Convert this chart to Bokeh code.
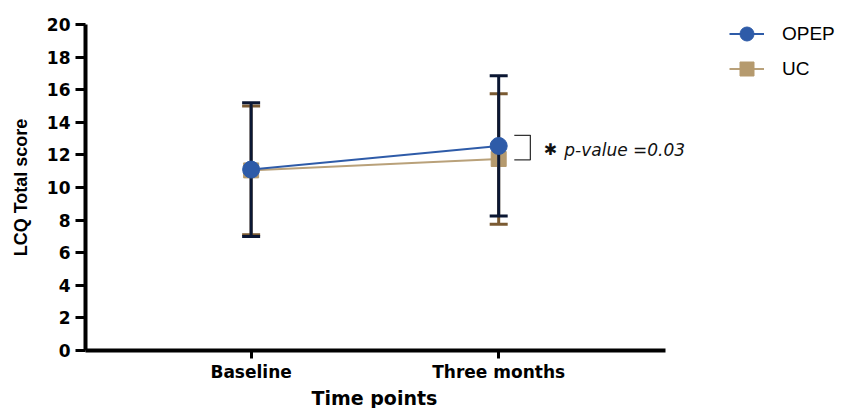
from bokeh.plotting import figure
from bokeh.models import Range1d, FixedTicker, Legend, LegendItem, Label
from bokeh.embed import file_html
from bokeh.resources import INLINE

# LCQ total score (mean ± SD) at each time point
time_points = ["Baseline", "Three months"]
x_pos = [1, 2]
opep_mean = [11.1, 12.55]
opep_sd = [4.1, 4.3]
uc_mean = [11.05, 11.75]
uc_sd = [3.95, 4.0]
y_ticks = list(range(0, 21, 2))
p_value_text = "p-value =0.03"
x_title = "Time points"

OPEP_COLOR = "#2e5ba8"
OPEP_BAR = "#0b1733"
UC_COLOR = "#b59a6e"
UC_LINE = "#b9a17a"
UC_BAR = "#7a5a32"

# the x axis is drawn only over its own bounds; the rest of the frame
# holds the annotation and the legend
X_AXIS_BOUNDS = (0.331, 2.673)

p = figure(
    width=848, height=408,
    x_range=Range1d(0.331, 3.413), y_range=Range1d(0, 20),
    output_backend="svg", toolbar_location=None,
    title=x_title, title_location="below",
    min_border_left=85, min_border_right=0,
    min_border_top=24, min_border_bottom=58,
)
p.outline_line_color = None
p.xgrid.visible = False
p.ygrid.visible = False
p.background_fill_color = "white"
p.border_fill_color = "white"

# x-axis title, centred under the bounded axis
p.title.align = "left"
p.title.offset = 226
p.title.standoff = 0
p.title.text_font = "DejaVu Sans"
p.title.text_font_style = "bold"
p.title.text_font_size = "19px"
p.title.text_color = "black"

# axes
p.yaxis.ticker = FixedTicker(ticks=y_ticks)
p.yaxis.minor_tick_line_color = None
p.yaxis.axis_line_width = 4
p.yaxis.major_tick_line_width = 3
p.yaxis.major_tick_out = 10
p.yaxis.major_tick_in = 0
p.yaxis.major_label_standoff = 5
p.yaxis.major_label_text_font = "DejaVu Sans"
p.yaxis.major_label_text_font_style = "bold"
p.yaxis.major_label_text_font_size = "17px"
p.yaxis.major_label_text_color = "black"
p.yaxis.axis_label = "LCQ Total score"
p.yaxis.axis_label_text_font = "Liberation Sans"
p.yaxis.axis_label_text_font_style = "bold"
p.yaxis.axis_label_text_font_size = "18px"
p.yaxis.axis_label_text_color = "black"
p.yaxis.axis_label_standoff = 13

p.xaxis.bounds = X_AXIS_BOUNDS
p.xaxis.ticker = FixedTicker(ticks=x_pos)
p.xaxis.major_label_overrides = {x: t for x, t in zip(x_pos, time_points)}
p.xaxis.minor_tick_line_color = None
p.xaxis.axis_line_width = 4
p.xaxis.major_tick_line_width = 3
p.xaxis.major_tick_out = 8
p.xaxis.major_tick_in = 0
p.xaxis.major_label_standoff = 3
p.xaxis.major_label_text_font = "DejaVu Sans"
p.xaxis.major_label_text_font_style = "bold"
p.xaxis.major_label_text_font_size = "17px"
p.xaxis.major_label_text_color = "black"

# mean lines
uc_line = p.line(x_pos, uc_mean, line_color=UC_LINE, line_width=2)
opep_line = p.line(x_pos, opep_mean, line_color=OPEP_COLOR, line_width=2)


def error_bars(means, sds, color):
    lo = [m - s for m, s in zip(means, sds)]
    hi = [m + s for m, s in zip(means, sds)]
    p.segment(x0=x_pos, y0=lo, x1=x_pos, y1=hi, line_color=color, line_width=3)
    p.scatter(x=x_pos * 2, y=lo + hi, marker="dash", size=18,
              line_color=color, line_width=3)


error_bars(uc_mean, uc_sd, UC_BAR)
uc_pts = p.scatter(x_pos, uc_mean, marker="square", size=15,
                   fill_color=UC_COLOR, line_color=UC_COLOR)
error_bars(opep_mean, opep_sd, OPEP_BAR)
opep_pts = p.scatter(x_pos, opep_mean, marker="circle", size=17,
                     fill_color=OPEP_COLOR, line_color=OPEP_COLOR)

# significance bracket at three months
br_top = opep_mean[1] + 0.65
br_bot = uc_mean[1] - 0.05
br_x0, br_x1 = 2.063, 2.128
p.line([br_x0, br_x1, br_x1, br_x0], [br_top, br_top, br_bot, br_bot],
       line_color="#333333", line_width=1.3)
br_mid = (br_top + br_bot) / 2
p.add_layout(Label(x=2.209, y=br_mid, text="\u2731", text_align="center",
                   text_baseline="middle", text_font="DejaVu Sans",
                   text_font_size="16px", text_color="#111111", y_offset=-2))
p.add_layout(Label(x=2.265, y=br_mid, text=p_value_text, text_align="left",
                   text_baseline="middle", text_font="DejaVu Sans",
                   text_font_style="italic", text_font_size="17px",
                   text_color="#111111", y_offset=-2))

legend = Legend(
    items=[LegendItem(label="OPEP", renderers=[opep_line, opep_pts]),
           LegendItem(label="UC", renderers=[uc_line, uc_pts])],
    location=(644, 264),
    orientation="vertical",
    glyph_width=35, glyph_height=35, spacing=-6,
    label_standoff=18,
    label_text_font="Liberation Sans", label_text_font_size="19px",
    label_text_color="black",
    padding=0, margin=0,
    border_line_color=None, background_fill_alpha=0,
)
p.add_layout(legend)

open("out.html", "w").write(file_html(p, INLINE))
